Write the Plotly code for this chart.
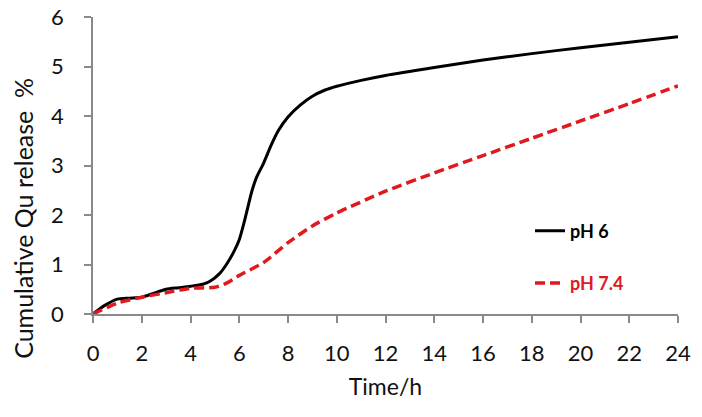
import plotly.graph_objects as go

time_ph6 = [0, 0.5, 1, 1.5, 2, 2.5, 3, 3.5, 4, 4.5, 4.8, 5.2, 5.5, 5.8, 6, 6.2, 6.35, 6.5, 6.7, 7, 7.3, 7.6, 8, 8.5, 9, 9.5, 10, 11, 12, 14, 16, 18, 20, 22, 24]
release_ph6 = [0, 0.18, 0.3, 0.32, 0.34, 0.42, 0.5, 0.53, 0.56, 0.6, 0.66, 0.82, 1.02, 1.28, 1.5, 1.85, 2.15, 2.45, 2.75, 3.05, 3.4, 3.7, 3.98, 4.22, 4.4, 4.52, 4.6, 4.72, 4.82, 4.98, 5.13, 5.26, 5.38, 5.49, 5.6]

time_ph74 = [0, 1, 2, 3, 4, 5, 5.5, 6, 7, 8, 9, 10, 12, 14, 16, 18, 20, 22, 24]
release_ph74 = [0, 0.22, 0.34, 0.43, 0.52, 0.54, 0.63, 0.78, 1.04, 1.44, 1.78, 2.04, 2.48, 2.85, 3.2, 3.55, 3.9, 4.25, 4.61]

x_ticks = list(range(0, 25, 2))
y_ticks = list(range(0, 7))

x_title = "Time/h"
y_title = "Cumulative Qu release\u00a0\u00a0%"

FONT = "Lato, 'Open Sans', sans-serif"
RED = "#e0191f"

fig = go.Figure()
fig.add_trace(go.Scatter(
    x=time_ph6, y=release_ph6, mode="lines", name="<b>pH 6</b>",
    line=dict(color="#000000", width=3, shape="spline", smoothing=0.6),
    legendgroup="a"))
fig.add_trace(go.Scatter(
    x=time_ph74, y=release_ph74, mode="lines",
    name=f"<b><span style='color:{RED}'>pH 7.4</span></b>",
    line=dict(color=RED, width=3.5, dash="10px,5px", shape="spline", smoothing=0.6),
    legendgroup="b"))

axis_common = dict(
    showline=True, linecolor="#898989", linewidth=1.5,
    ticks="outside", tickcolor="#898989", ticklen=7, tickwidth=1.5,
    showgrid=False, zeroline=False, automargin=False,
    tickfont=dict(family=FONT, size=22, color="#111111"),
)

fig.update_layout(
    width=702, height=417,
    margin=dict(l=93, r=24, t=17, b=103),
    paper_bgcolor="white", plot_bgcolor="white",
    font=dict(family=FONT, color="#111111"),
    xaxis=dict(range=[0, 24], tickvals=x_ticks, ticklabelstandoff=12,
               title=dict(text=x_title, font=dict(family=FONT, size=23), standoff=14), **axis_common),
    yaxis=dict(range=[0, 6], tickvals=y_ticks, ticklabelstandoff=16, **axis_common),
    legend=dict(x=0.747, y=0.192, xanchor="left", yanchor="middle",
                font=dict(family=FONT, size=18, color="#000000"),
                tracegroupgap=26, bgcolor="rgba(0,0,0,0)"),
    showlegend=True,
    annotations=[dict(text=y_title, textangle=-90, xref="paper", yref="paper",
                      x=-0.12, y=0.323, xanchor="center", yanchor="middle",
                      showarrow=False, font=dict(family=FONT, size=25, color="#111111"))],
)

# remove the page's default body margin so the figure sits at the window's top-left corner
fig.write_html("out.html", config={"displayModeBar": False},
               post_script="document.body.style.margin='0';")
